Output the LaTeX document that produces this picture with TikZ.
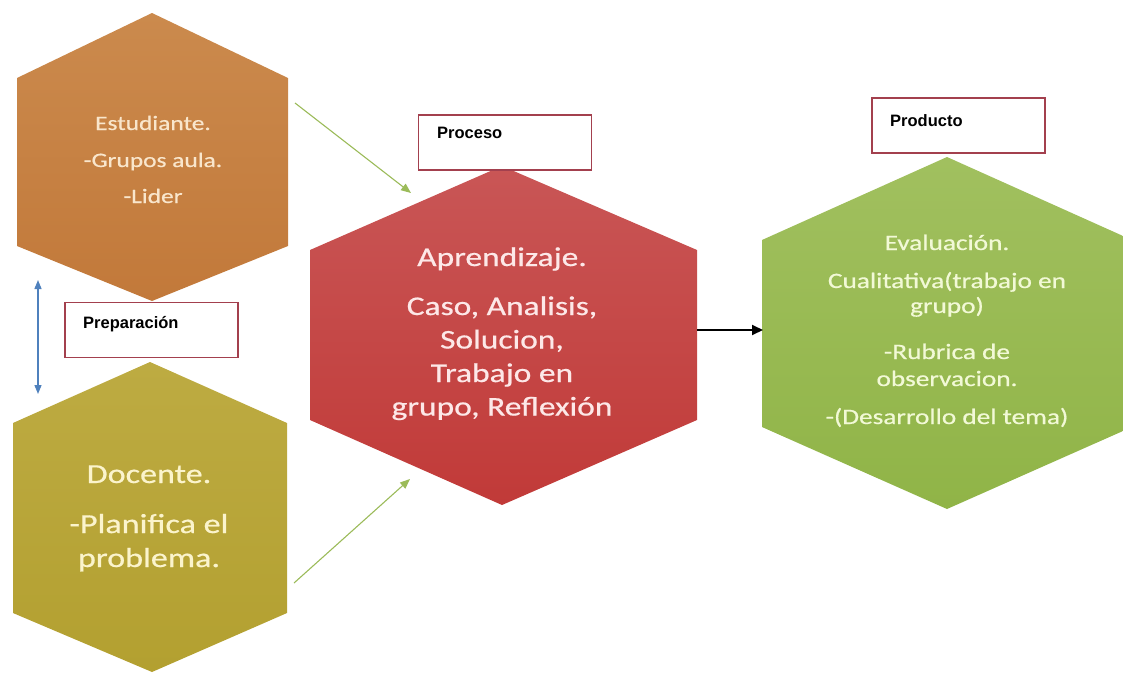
\documentclass[tikz,border=0pt]{standalone}
\usepackage{fontspec}
\setmainfont{Carlito}
\newfontfamily\hexfont[FakeStretch=1.24,FakeBold=0.6]{Carlito}
\newfontfamily\labfont{Liberation Sans}
\usetikzlibrary{arrows.meta}
\definecolor{orTop}{HTML}{CB8A4D}
\definecolor{orBot}{HTML}{C2793A}
\definecolor{olTop}{HTML}{BDAB42}
\definecolor{olBot}{HTML}{B3A030}
\definecolor{rdTop}{HTML}{C95656}
\definecolor{rdBot}{HTML}{C13A38}
\definecolor{grTop}{HTML}{A1C05F}
\definecolor{grBot}{HTML}{90B447}
\definecolor{orTxt}{HTML}{F9E6CC}
\definecolor{olTxt}{HTML}{FBF4CC}
\definecolor{rdTxt}{HTML}{FDE8E8}
\definecolor{grTxt}{HTML}{F2F9D6}
\definecolor{boxLine}{HTML}{A3404E}
\definecolor{arrGreen}{HTML}{9BBB59}
\definecolor{arrBlue}{HTML}{4F81BD}
\tikzset{
  hexline/.style={anchor=base, inner sep=0pt, font=\hexfont},
  otext/.style={hexline, text=orTxt, font=\hexfont\fontsize{20.5}{24}\selectfont},
  ltext/.style={hexline, text=olTxt, font=\hexfont\fontsize{27.5}{32}\selectfont},
  rtext/.style={hexline, text=rdTxt, font=\hexfont\fontsize{27}{32}\selectfont},
  gtext/.style={hexline, text=grTxt, font=\hexfont\fontsize{22}{26}\selectfont},
  labbox/.style={draw=boxLine, line width=1.6pt, fill=white, minimum width=173pt, minimum height=55pt, inner sep=0pt},
  labtext/.style={anchor=base west, inner sep=0pt, font=\labfont\bfseries\fontsize{16.5}{20}\selectfont, text=black},
  greenarrow/.style={draw=arrGreen, line width=1.1pt, -{Triangle[length=10pt,width=8pt]}},
  blackarrow/.style={draw=black, line width=1.8pt, -{Triangle[length=11pt,width=10pt]}},
  bluearrow/.style={draw=arrBlue, line width=1.3pt, {Triangle[length=9pt,width=7pt]}-{Triangle[length=9pt,width=7pt]}}
}
\begin{document}
\begin{tikzpicture}[x=1pt,y=-1pt]
\useasboundingbox (0,0) rectangle (1123,672);
\clip (0,0) rectangle (1123,672);

% hexagon vertices
\coordinate (oT) at (152,13);   \coordinate (oR1) at (288,78);  \coordinate (oR2) at (288,246);
\coordinate (oB) at (152,301);  \coordinate (oL2) at (17,246);  \coordinate (oL1) at (17,78);
\coordinate (lT) at (150,362);  \coordinate (lR1) at (287,423); \coordinate (lR2) at (287,613);
\coordinate (lB) at (152,672);  \coordinate (lL2) at (13,613);  \coordinate (lL1) at (13,423);
\coordinate (rT) at (502,166);  \coordinate (rR1) at (697,250); \coordinate (rR2) at (697,420);
\coordinate (rB) at (502,505);  \coordinate (rL2) at (310,420); \coordinate (rL1) at (310,250);
\coordinate (gT) at (947,157);  \coordinate (gR1) at (1132,240); \coordinate (gR2) at (1132,427);
\coordinate (gB) at (947,509);  \coordinate (gL2) at (762,427); \coordinate (gL1) at (762,240);

\shade[top color=orTop, bottom color=orBot] (oT) -- (oR1) -- (oR2) -- (oB) -- (oL2) -- (oL1) -- cycle;
\shade[top color=olTop, bottom color=olBot] (lT) -- (lR1) -- (lR2) -- (lB) -- (lL2) -- (lL1) -- cycle;
\shade[top color=rdTop, bottom color=rdBot] (rT) -- (rR1) -- (rR2) -- (rB) -- (rL2) -- (rL1) -- cycle;
\shade[top color=grTop, bottom color=grBot] (gT) -- (gR1) -- (gR2) -- (gB) -- (gL2) -- (gL1) -- cycle;

% label boxes
\node[labbox] (prepbox) at (151.5,330) {};
\node[labbox] (procbox) at (505,142.5) {};
\node[labbox] (prodbox) at (958.5,125.5) {};
\node[labtext] (preptxt) at (83,328) {Preparación};
\node[labtext] (proctxt) at (437,138) {Proceso};
\node[labtext] (prodtxt) at (890,126) {Producto};

% texts
\node[otext] (o1) at (153,130) {Estudiante.};
\node[otext] (o2) at (153,167) {-Grupos aula.};
\node[otext] (o3) at (153,203) {-Lider};

\node[ltext] (l1) at (149,483) {Docente.};
\node[ltext] (l2) at (149,533) {-Planifica el};
\node[ltext] (l3) at (149,567) {problema.};

\node[rtext] (r1) at (502,266) {Aprendizaje.};
\node[rtext] (r2) at (502,315) {Caso, Analisis,};
\node[rtext] (r3) at (502,348.5) {Solucion,};
\node[rtext] (r4) at (502,382) {Trabajo en};
\node[rtext] (r5) at (502,415.5) {grupo, Reflexión};

\node[gtext] (g1) at (947,250) {Evaluación.};
\node[gtext] (g2) at (947,288) {Cualitativa(trabajo en};
\node[gtext] (g3) at (947,313) {grupo)};
\node[gtext] (g4) at (947,359) {-Rubrica de};
\node[gtext] (g5) at (947,386) {observacion.};
\node[gtext] (g6) at (947,424) {-(Desarrollo del tema)};

% connectors
\coordinate (a1s) at (295,103);
\coordinate (a1e) at (411,193);
\coordinate (a2s) at (294,583);
\coordinate (a2e) at (410,479);
\coordinate (a3s) at (697,330);
\coordinate (a3e) at (763,330);
\coordinate (a4s) at (38,280);
\coordinate (a4e) at (38,394);
\draw[greenarrow] (a1s) -- (a1e);
\draw[greenarrow] (a2s) -- (a2e);
\draw[blackarrow] (a3s) -- (a3e);
\draw[bluearrow] (a4s) -- (a4e);
\end{tikzpicture}
\end{document}
